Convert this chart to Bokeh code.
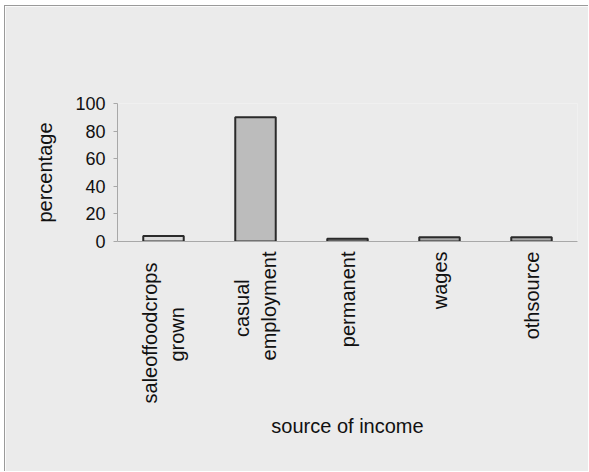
from bokeh.plotting import figure
from bokeh.models import Range1d, FixedTicker
from bokeh.embed import file_html
from bokeh.resources import INLINE
import math

NB = "\u00a0"
categories = ["saleoffoodcrops" + NB * 2 + "\ngrown" + NB * 10, "casual" + NB * 5 + "\nemployment", "permanent", "wages", "othsource"]
values = [4, 90, 2, 3, 3]
fills = ["#dadada", "#bcbcbc", "#9a9a9a", "#a8a8a8", "#a8a8a8"]
y_ticks = [0, 20, 40, 60, 80, 100]

BG = "#ebebeb"
FONT = "Liberation Sans"

p = figure(x_range=categories, y_range=Range1d(0, 100),
           width=584, height=466,
           min_border_left=112, min_border_right=12,
           min_border_top=97, min_border_bottom=231,
           output_backend="svg", toolbar_location=None)

p.vbar(x=categories, top=values, width=0.44,
       fill_color=fills, line_color="#2a2a2a", line_width=2)

p.background_fill_color = BG
p.border_fill_color = BG
p.outline_line_color = None
p.xgrid.grid_line_color = None
p.ygrid.grid_line_color = None

p.yaxis.ticker = FixedTicker(ticks=y_ticks)
p.yaxis.minor_tick_line_color = None
p.yaxis.major_tick_out = 4
p.yaxis.major_tick_in = 0
p.yaxis.major_label_standoff = 8
p.yaxis.axis_label = "percentage"
p.yaxis.axis_label_standoff = 16

p.xaxis.axis_label = "source of income"
p.xaxis.major_label_orientation = math.pi / 2
p.xaxis.major_label_standoff = 4
p.xaxis.axis_label_standoff = 9

for ax in (p.xaxis, p.yaxis):
    ax.axis_line_color = "#a8a8a8"
    ax.axis_line_width = 1
    ax.major_label_text_font = FONT
    ax.major_label_text_font_size = "20px"
    ax.major_label_text_color = "#111111"
    ax.axis_label_text_font = FONT
    ax.axis_label_text_font_size = "20px"
    ax.axis_label_text_font_style = "normal"
    ax.axis_label_text_color = "#111111"

p.xaxis.major_tick_line_color = None
p.yaxis.major_tick_line_color = "#a8a8a8"
p.yaxis.major_label_text_font_size = "18px"

p.styles = {"margin-left": "4px", "margin-top": "5px",
            "border-left": "1px solid #9a9a9a", "border-top": "1px solid #9a9a9a"}

open("out.html", "w").write(file_html(p, INLINE))
